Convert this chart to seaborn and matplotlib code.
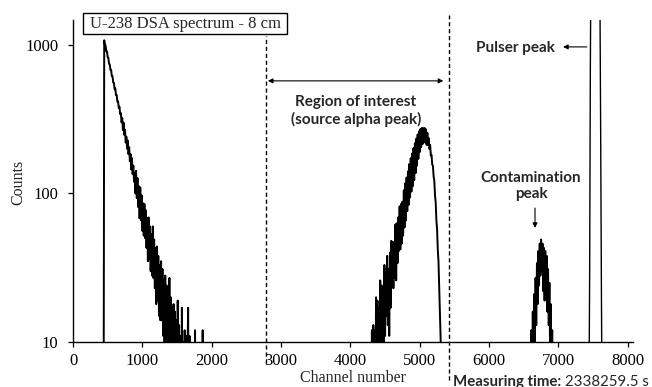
import numpy as np
import pandas as pd
import matplotlib
matplotlib.use("Agg")
import matplotlib.pyplot as plt
import matplotlib.patches as mpatches
from matplotlib.ticker import FixedLocator, FixedFormatter, NullLocator
import seaborn as sns

# ---------------- data ----------------
# low-energy tail (channels start at 440, step 10)
tail_start = 440
tail_counts = [
    1, 1075, 1003, 989, 905, 905, 826, 819, 746, 741, 677, 679, 616, 616, 558, 556,
    503, 510, 460, 461, 414, 417, 376, 384, 342, 348, 301, 322, 267, 300, 248, 269,
    220, 241, 200, 227, 184, 205, 165, 184, 145, 173, 135, 154, 120, 138, 100, 142,
    93, 127, 81, 112, 68, 110, 66, 97, 56, 86, 52, 85, 50, 77, 43, 68,
    35, 69, 36, 60, 30, 53, 28, 60, 27, 49, 23, 43, 18, 44, 19, 38,
    15, 33, 14, 35, 14, 31, 11, 26, 8, 28, 10, 24, 7, 21, 7, 27,
    7, 20, 5, 17, 3, 18, 4, 16, 3, 14, 2, 19, 3, 13, 2, 11,
    1, 17, 2, 10, 1, 12, 2, 11, 1, 8, 17, 2, 11, 1, 6, 3,
    2, 4, 3, 2, 12, 2, 3, 2, 4, 1, 3, 2, 3, 4, 2, 12,
    2, 1,
]

# source alpha peak (channels start at 4250, step 10)
peak_start = 4250
peak_counts = [
    8, 2, 9, 2, 7, 3, 12, 3, 13, 3, 12, 4, 20, 6, 19, 5,
    17, 6, 26, 7, 24, 8, 23, 9, 33, 11, 31, 15, 38, 13, 31, 11,
    40, 17, 48, 24, 47, 23, 47, 27, 62, 26, 63, 34, 69, 41, 82, 42,
    85, 46, 88, 52, 105, 59, 117, 66, 128, 76, 141, 84, 158, 94, 173, 103,
    186, 112, 202, 123, 218, 137, 234, 154, 250, 171, 262, 190, 272, 205, 276, 215,
    275, 222, 276, 220, 270, 212, 256, 212, 236, 200, 212, 180, 182, 156, 154, 130,
    122, 97, 87, 66, 57, 42, 35, 24, 17, 11, 7, 4, 2, 1,
]

# contamination peak (channels start at 6580, step 10)
contam_start = 6580
contam_counts = [
    2, 4, 5, 12, 4, 16, 6, 21, 9, 27, 13, 34, 18, 41, 24, 46,
    28, 49, 30, 46, 22, 43, 19, 41, 21, 38, 16, 31, 13, 25, 8, 18,
    6, 12, 4, 5, 2,
]

# pulser peak (off scale)
pulser_channels = [7430, 7440, 7450, 7460, 7470, 7480, 7500, 7530, 7560, 7580,
                   7590, 7600, 7610, 7620, 7630, 7640]
pulser_counts = [1, 4, 30, 700, 5000, 20000, 40000, 50000, 40000, 20000,
                 6000, 1500, 200, 20, 3, 1]

x_ticks = [0, 1000, 2000, 3000, 4000, 5000, 6000, 7000, 8000]
y_ticks = [10, 100, 1000]
y_tick_labels = ["10", "100", "1000"]

roi_low, roi_high = 2783, 5422
title_text = "U-238 DSA spectrum - 8 cm"
measuring_label = "Measuring time:"
measuring_time = "2338259.5 s"

# ---------------- build table ----------------
def seg(start, counts):
    return [start + 10 * i for i in range(len(counts))], list(counts)

parts = [("alpha", seg(tail_start, tail_counts)),
         ("alpha", seg(peak_start, peak_counts)),
         ("alpha", seg(contam_start, contam_counts)),
         ("pulser", (pulser_channels, pulser_counts))]
rows = []
for name, (c, v) in parts:
    for ci, vi in zip(c, v):
        rows.append((name, ci, vi))
df = pd.DataFrame(rows, columns=["part", "channel", "counts"])

# ---------------- figure ----------------
sns.set_style("ticks")
plt.rcParams["font.family"] = ["Liberation Serif", "DejaVu Serif"]

W, H = 652, 387
fig = plt.figure(figsize=(W / 100, H / 100), dpi=100)
ax = fig.add_axes([73 / W, 1 - 342 / H, 560 / W, 322 / H])

sns.lineplot(data=df[df.part == "alpha"], x="channel", y="counts", ax=ax,
             color="black", lw=1.4, estimator=None, sort=False)
sns.lineplot(data=df[df.part == "pulser"], x="channel", y="counts", ax=ax,
             color="black", lw=1.0, estimator=None, sort=False)

ax.set_yscale("log")
ax.set_xlim(0, 8075)
ax.set_ylim(10, 1472)
ax.xaxis.set_major_locator(FixedLocator(x_ticks))
ax.yaxis.set_major_locator(FixedLocator(y_ticks))
ax.yaxis.set_major_formatter(FixedFormatter(y_tick_labels))
ax.yaxis.set_minor_locator(NullLocator())
ax.xaxis.set_minor_locator(NullLocator())
ax.tick_params(axis="both", direction="out", length=3.6, width=0.9,
               labelsize=12, colors="black")
ax.tick_params(axis="y", pad=7)
ax.tick_params(axis="x", pad=4)
for lab in ax.get_xticklabels() + ax.get_yticklabels():
    lab.set_fontfamily("Liberation Serif")

sns.despine(ax=ax)
for s in ("left", "bottom"):
    ax.spines[s].set_linewidth(1.0)
    ax.spines[s].set_color("black")

ax.set_xlabel("Channel number", fontsize=11.5)
ax.set_ylabel("Counts", fontsize=11.5)
ax.xaxis.label.set(va="center", ha="center")
ax.yaxis.label.set(va="center", ha="center")
ax.xaxis.set_label_coords(0.5, (342 - 378) / 322)
ax.yaxis.set_label_coords((18 - 73) / 560, (342 - 182) / 322)

# dashed region-of-interest lines
ax.axvline(roi_low, ymin=(342 - 363) / 322, ymax=(342 - 36) / 322,
           color="black", lw=1.0, ls=(0, (3, 2)), clip_on=False)
ax.axvline(roi_high, ymin=(342 - 380) / 322, ymax=(342 - 15) / 322,
           color="black", lw=1.0, ls=(0, (3, 2)), clip_on=False)

arrow_kw = dict(color="black", lw=0.8, mutation_scale=7, shrinkA=0, shrinkB=0)
ax.annotate("", xy=(2810, 573), xytext=(5340, 573),
            arrowprops=dict(arrowstyle="<|-|>", **arrow_kw))
ax.annotate("", xy=(7066, 970), xytext=(7410, 970),
            arrowprops=dict(arrowstyle="-|>", **arrow_kw))
ax.annotate("", xy=(6662, 58.6), xytext=(6662, 79.8),
            arrowprops=dict(arrowstyle="-|>", **arrow_kw))

sans = ["Lato", "DejaVu Sans"]
ax.text(4080, 360, "Region of interest\n(source alpha peak)", ha="center",
        va="center", fontsize=11, fontweight="bold", family=sans,
        linespacing=1.2)
ax.text(6385, 955, "Pulser peak", ha="center", va="center", fontsize=11,
        fontweight="bold", family=sans)
ax.text(6604, 112, "Contamination\npeak", ha="center", va="center",
        fontsize=11, fontweight="bold", family=sans, linespacing=1.15)

# title box
fig.patches.append(mpatches.Rectangle((83 / W, 1 - 34 / H), 204 / W, 21 / H,
                                      transform=fig.transFigure, fc="white",
                                      ec="black", lw=1.0, zorder=5))
fig.text(185 / W, 1 - 24 / H, title_text, ha="center", va="center",
         fontsize=12, family="Liberation Serif", zorder=6)

# measuring time (bold label followed by the value), partly below the edge as in the reference
t1 = fig.text(453 / W, -0.006, measuring_label, ha="left", va="bottom",
              fontsize=10.8, fontweight="bold", family=sans)
ax.annotate(measuring_time, xy=(1, 0), xycoords=t1, xytext=(3, 0),
            textcoords="offset points", ha="left", va="bottom",
            fontsize=10.8, family=sans, annotation_clip=False)

fig.savefig("out.png", dpi=100)
